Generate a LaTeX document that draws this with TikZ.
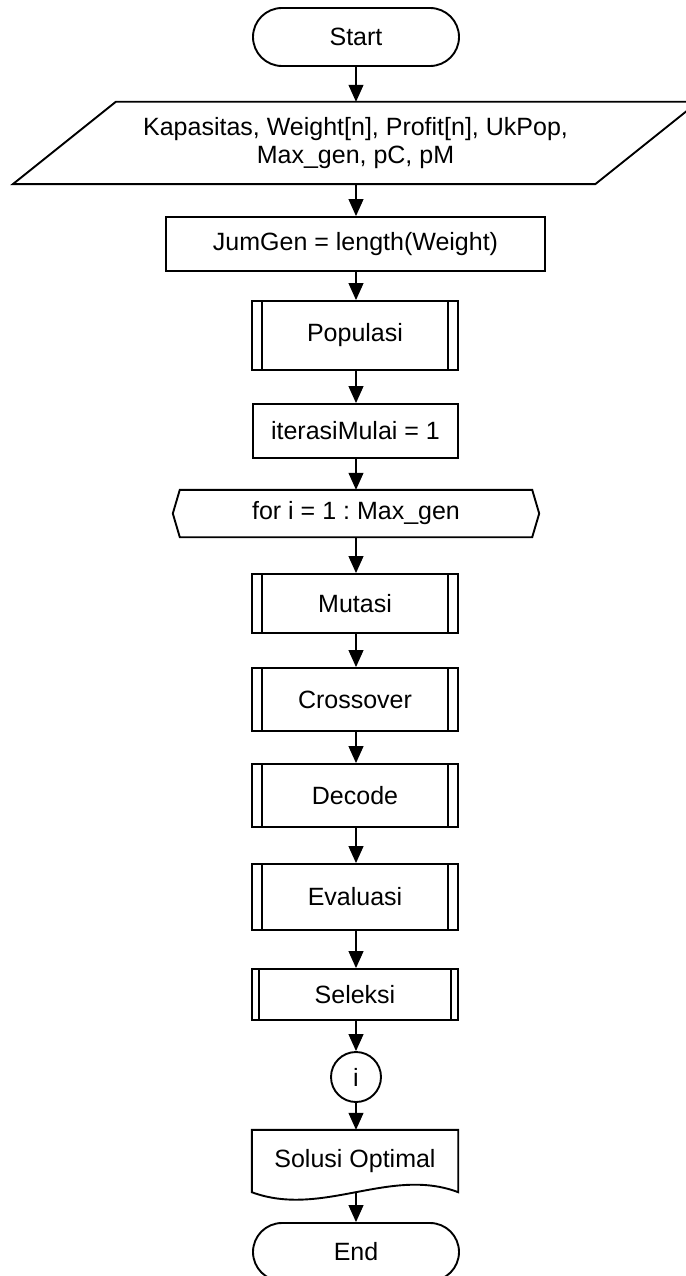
\documentclass[tikz,border=0pt]{standalone}
\usepackage{fontspec}
\setmainfont{Liberation Sans}
\usetikzlibrary{arrows.meta,shapes.misc,calc}
\frenchspacing
\begin{document}
\begin{tikzpicture}[x=1pt,y=-1pt,
  every node/.style={font=\fontsize{25}{27.5}\selectfont, inner sep=0pt, align=center},
  outline/.style={draw, line width=1.9pt, line join=miter},
  terminal/.style={outline, rounded rectangle, minimum width=206pt, minimum height=58pt},
  process/.style={outline, rectangle},
  subproc/.style={outline, rectangle, minimum width=206pt},
  bare/.style={draw=none, rectangle},
  conn/.style={line width=1.1pt, -{Triangle[length=17pt,width=15pt]}}]

\useasboundingbox (0,0) rectangle (685,1276);

% nodes, top to bottom
\node[terminal] (start) at (356,37) {Start};
\node[bare, minimum width=479pt, minimum height=82pt] (inp) at (355.5,143)
  {Kapasitas, Weight[n], Profit[n], UkPop,\\Max\_gen, pC, pM};
\node[process, minimum width=379pt, minimum height=54pt] (jum) at (355.5,244) {JumGen = length(Weight)};
\node[subproc, minimum height=69pt] (pop) at (355,335.5) {Populasi};
\node[process, minimum width=205pt, minimum height=54pt] (iter) at (355.5,431) {iterasiMulai = 1};
\node[bare, minimum width=352pt, minimum height=47pt] (loop) at (356,513.5) {for i = 1 : Max\_gen};
\node[subproc, minimum height=59pt] (mut) at (355,603.5) {Mutasi};
\node[subproc, minimum height=63pt] (cross) at (355,699.5) {Crossover};
\node[subproc, minimum height=63pt] (dec) at (355,795.5) {Decode};
\node[subproc, minimum height=66pt] (eva) at (355,897) {Evaluasi};
\node[subproc, minimum height=51pt] (sel) at (355,994.5) {Seleksi};
\node[outline, circle, minimum size=50pt] (con) at (356,1077) {i};
\node[bare, minimum width=206pt, minimum height=62pt] (doc) at (355,1161) {Solusi Optimal};
\node[terminal] (end) at (356,1252) {End};

% input / output parallelogram
\draw[outline] ($(inp.south west)+(-103,0)$) -- (inp.north west)
  -- ($(inp.north east)+(103,0)$) -- (inp.south east) -- cycle;

% loop limit hexagon
\draw[outline] (loop.north west) -- (loop.north east) -- ($(loop.east)+(7,0)$)
  -- (loop.south east) -- (loop.south west) -- ($(loop.west)+(-7,0)$) -- cycle;

% predefined process side bars
\foreach \n in {pop,mut,cross,dec,eva}{
  \draw[outline] ([xshift=11pt]\n.north west) -- ([xshift=11pt]\n.south west);
  \draw[outline] ([xshift=-11pt]\n.north east) -- ([xshift=-11pt]\n.south east);
}
\draw[outline] ([xshift=8pt]sel.north west) -- ([xshift=8pt]sel.south west);
\draw[outline] ([xshift=-8pt]sel.north east) -- ([xshift=-8pt]sel.south east);

% document shape with wavy bottom
\draw[outline] (doc.south west) -- (doc.north west) -- (doc.north east)
  -- (doc.south east) .. controls ($(doc.south east)+(-68,-26)$) and ($(doc.south west)+(70,26)$) .. (doc.south west) -- cycle;

% connectors
\draw[conn] (start.south) -- (start.south |- inp.north);
\draw[conn] (inp.south -| start.south) -- (start.south |- jum.north);
\draw[conn] (jum.south -| start.south) -- (start.south |- pop.north);
\draw[conn] (pop.south -| start.south) -- (start.south |- iter.north);
\draw[conn] (iter.south -| start.south) -- (start.south |- loop.north);
\draw[conn] (loop.south -| start.south) -- (start.south |- mut.north);
\draw[conn] (mut.south -| start.south) -- (start.south |- cross.north);
\draw[conn] (cross.south -| start.south) -- (start.south |- dec.north);
\draw[conn] (dec.south -| start.south) -- (start.south |- eva.north);
\draw[conn] (eva.south -| start.south) -- (start.south |- sel.north);
\draw[conn] (sel.south -| start.south) -- (con.north);
\draw[conn] (con.south) -- (start.south |- doc.north);
\draw[conn] ($(doc.south -| start.south)+(0,1)$) -- (end.north);
\end{tikzpicture}
\end{document}
